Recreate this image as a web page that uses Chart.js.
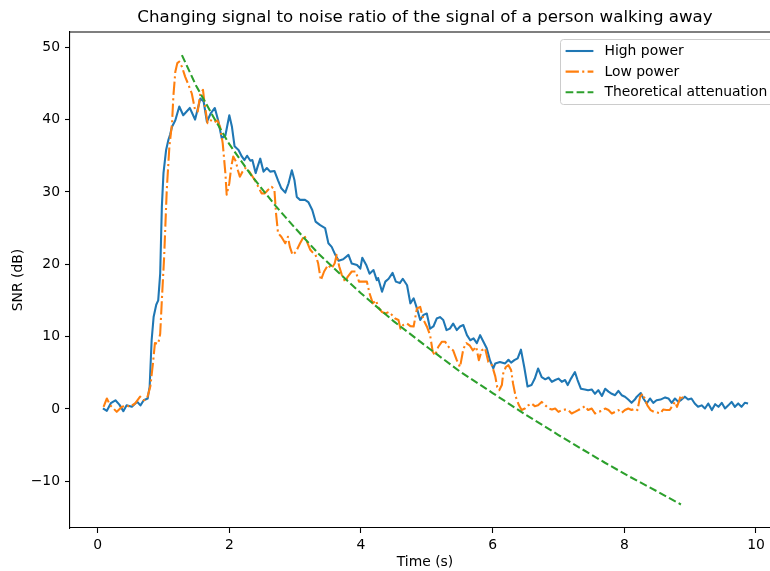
<!DOCTYPE html>
<html>
<head>
<meta charset="utf-8">
<script src="https://cdn.jsdelivr.net/npm/chart.js@4/dist/chart.umd.min.js"></script>
<style>
  html, body { margin: 0; padding: 0; background: #fff; overflow: hidden; }
  #wrap { width: 800px; height: 571px; }
</style>
</head>
<body>
<div id="wrap"><canvas id="grafico" width="800" height="571"></canvas></div>
<script>
// dados
const titulo = 'Changing signal to noise ratio of the signal of a person walking away';
const nomes = ['High power', 'Low power', 'Theoretical attenuation'];
const xTicks = [0, 2, 4, 6, 8, 10];
const yTicks = [-10, 0, 10, 20, 30, 40, 50];

const highT = [0.08,0.14,0.20,0.27,0.33,0.39,0.44,0.52,0.60,0.65,0.70,0.76,0.79,0.82,0.85,0.89,0.92,0.95,0.975,1.00,
  1.04,1.075,1.10,1.13,1.18,1.24,1.30,1.40,1.48,1.56,1.61,1.66,1.72,1.78,1.83,1.885,1.94,2.00,2.04,2.08,
  2.14,2.19,2.23,2.27,2.32,2.35,2.40,2.43,2.47,2.52,2.57,2.62,2.685,2.74,2.79,2.85,2.90,2.95,2.99,3.025,
  3.075,3.15,3.20,3.26,3.31,3.38,3.455,3.505,3.555,3.61,3.66,3.73,3.81,3.86,3.94,3.99,4.02,4.08,4.13,4.19,
  4.24,4.26,4.32,4.37,4.42,4.48,4.53,4.59,4.635,4.70,4.75,4.80,4.85,4.90,4.95,5.00,5.05,5.10,5.15,5.20,
  5.25,5.30,5.35,5.40,5.455,5.505,5.555,5.61,5.66,5.71,5.76,5.81,5.86,5.91,5.96,6.01,6.04,6.11,6.19,6.24,
  6.28,6.33,6.38,6.43,6.48,6.53,6.59,6.64,6.69,6.745,6.80,6.85,6.90,6.95,7.00,7.05,7.10,7.14,7.19,7.25,
  7.29,7.34,7.40,7.45,7.505,7.555,7.605,7.66,7.71,7.76,7.81,7.86,7.91,7.96,8.01,8.06,8.11,8.16,8.19,8.25,
  8.29,8.34,8.39,8.44,8.49,8.55,8.62,8.67,8.72,8.77,8.82,8.87,8.92,8.97,9.02,9.07,9.12,9.175,9.225,9.275,
  9.33,9.38,9.43,9.48,9.53,9.58,9.63,9.68,9.73,9.78,9.83,9.88];
const highV = [0.1,-0.25,0.8,1.2,0.6,-0.3,0.5,0.3,1.0,0.5,1.2,1.45,3.1,9.5,12.7,14.4,15.0,18.7,27.9,32.6,
  35.8,37.2,37.9,39.0,39.9,41.8,40.6,41.6,40.0,42.9,42.5,39.7,40.9,41.6,39.9,37.4,37.8,40.6,39.0,36.3,
  35.8,34.9,34.4,35.0,34.3,34.4,32.6,33.5,34.6,32.8,33.3,32.8,32.9,31.6,30.5,29.9,31.2,33.0,31.6,29.3,
  28.9,28.9,28.6,27.5,25.9,25.4,25.0,22.9,22.4,21.3,20.5,20.7,21.3,20.1,19.9,19.4,20.9,19.9,18.7,19.2,
  17.8,18.1,16.2,17.6,18.0,18.8,17.6,17.4,18.0,17.1,14.6,15.3,13.9,12.3,13.0,13.2,11.1,11.4,12.5,12.7,
  12.3,10.9,11.1,11.8,10.9,11.4,11.6,10.2,9.5,9.75,9.1,10.2,9.3,8.4,6.7,5.6,6.3,6.5,6.3,6.8,
  6.4,6.75,7.0,8.2,5.8,3.1,3.3,4.2,5.6,4.4,4.1,4.35,3.75,4.0,4.2,3.75,4.0,3.3,4.2,5.1,
  4.0,2.8,2.7,2.6,2.7,2.1,2.6,1.8,2.8,2.4,2.1,1.9,2.5,1.9,1.7,1.3,0.85,1.3,1.7,2.2,
  1.45,0.76,1.45,0.85,1.2,1.3,1.6,1.45,0.85,1.45,0.98,1.3,1.7,1.3,1.45,0.76,0.3,0.5,0.07,0.76,
  -0.15,0.66,0.3,0.85,0.07,0.5,0.98,0.3,0.76,0.3,0.85,0.76];

const lowT = [0.09,0.14,0.19,0.24,0.29,0.37,0.44,0.49,0.57,0.645,0.70,0.75,0.80,0.84,0.87,0.92,0.95,0.975,1.01,1.05,
  1.09,1.13,1.15,1.18,1.21,1.24,1.28,1.33,1.38,1.43,1.48,1.52,1.56,1.60,1.63,1.67,1.72,1.77,1.82,1.86,
  1.90,1.94,1.96,2.00,2.03,2.06,2.10,2.13,2.16,2.20,2.24,2.29,2.34,2.39,2.44,2.49,2.54,2.59,2.645,2.685,
  2.71,2.74,2.79,2.85,2.89,2.92,2.96,3.01,3.075,3.14,3.18,3.23,3.26,3.31,3.35,3.39,3.44,3.50,3.55,3.60,
  3.63,3.67,3.71,3.76,3.80,3.86,3.92,3.97,4.02,4.09,4.13,4.18,4.23,4.26,4.32,4.37,4.42,4.47,4.52,4.57,
  4.60,4.64,4.70,4.75,4.80,4.85,4.90,4.95,5.00,5.05,5.09,5.125,5.175,5.23,5.28,5.31,5.35,5.40,5.455,5.505,
  5.555,5.60,5.65,5.70,5.75,5.79,5.835,5.885,5.935,5.99,6.04,6.07,6.10,6.14,6.16,6.20,6.24,6.28,6.31,6.35,
  6.40,6.44,6.49,6.54,6.59,6.64,6.69,6.745,6.80,6.85,6.90,6.95,7.00,7.05,7.10,7.15,7.20,7.25,7.30,7.35,
  7.40,7.45,7.505,7.555,7.605,7.66,7.71,7.76,7.81,7.86,7.91,7.96,8.01,8.06,8.11,8.16,8.20,8.24,8.28,8.31,
  8.35,8.40,8.45,8.50,8.55,8.59,8.64,8.69,8.735,8.77,8.80,8.835,8.86,8.89];
const lowV = [0.3,1.45,0.5,0.07,-0.4,0.3,0.5,0.3,0.76,1.7,1.2,1.45,3.1,6.3,9.1,9.0,10.4,15.0,21.0,30.3,
  36.3,39.5,43.2,46.6,47.8,48.0,47.3,45.9,44.8,43.6,41.3,41.1,43.6,44.1,41.8,39.5,39.9,39.6,39.9,39.0,
  36.7,32.6,29.6,31.2,33.5,34.9,34.2,33.0,32.1,32.8,33.3,33.0,32.3,31.6,30.7,29.8,29.8,30.3,30.7,30.3,
  27.0,24.3,23.8,22.9,23.8,22.4,21.3,21.7,22.9,24.0,23.1,22.0,21.7,21.3,20.1,17.8,19.0,19.9,19.4,20.1,
  21.3,19.7,18.5,17.6,18.3,19.0,19.0,17.6,17.6,17.6,16.0,14.6,15.0,14.1,13.4,13.2,13.4,13.0,12.5,12.3,
  11.1,11.6,11.8,11.45,11.4,13.9,14.1,12.3,11.4,10.2,7.9,7.4,8.6,9.3,9.3,8.8,8.4,8.1,6.75,5.8,
  8.3,9.1,8.8,8.1,8.6,6.75,8.1,8.4,6.5,6.05,4.5,3.0,2.6,3.3,4.9,5.8,6.05,5.4,3.5,1.7,
  0.5,-0.15,0.07,0.5,0.76,0.39,0.5,0.98,0.5,0.07,-0.07,0.07,-0.4,-0.15,-0.07,-0.15,-0.62,-0.4,-0.15,0.07,
  0.39,-0.15,0.07,-0.62,-0.4,-0.26,0.07,-0.15,-0.62,-0.4,-0.15,-0.54,-0.15,0.07,-0.15,0.07,-0.15,1.7,2.1,1.45,
  0.5,-0.15,-0.4,-0.5,-0.6,-0.07,-0.15,-0.15,0.5,0.98,0.3,1.2,1.9,1.45];

const teoT = [1.28,1.5,1.75,2.0,2.35,2.7,3.0,3.35,3.7,4.0,4.5,5.0,5.5,6.0,6.47,7.0,7.33,7.7,8.09,8.5,8.86];
const teoV = [48.9,44.6,40.5,36.6,32.1,28.1,25.0,21.5,18.5,16.0,12.1,8.6,5.2,2.2,-0.6,-3.6,-5.4,-7.4,-9.4,-11.4,-13.2];

const cores = ['#1f77b4', '#ff7f0e', '#2ca02c'];
const tracos = [[], [13.3, 3.3, 2.1, 3.3], [7.7, 3.3]];
const fonte = 'DejaVu Sans';

function pontos(ts, vs) {
    return ts.map((t, i) => ({ x: t, y: vs[i] }));
}

function menos(v) {
    return v < 0 ? '\u2212' + Math.abs(v) : String(v);
}

// linha de cima do quadro e legenda no canto
const molduraLegenda = {
    id: 'molduraLegenda',
    afterDraw(chart) {
        const { ctx, chartArea: a } = chart;
        ctx.save();
        ctx.strokeStyle = '#000';
        ctx.lineWidth = 1.1;
        ctx.beginPath();
        ctx.moveTo(a.left, a.top);
        ctx.lineTo(a.right + 5, a.top);
        ctx.stroke();

        const bx = a.right - 220, by = a.top + 7, bw = 213, bh = 65;
        ctx.beginPath();
        ctx.roundRect(bx + 0.5, by + 0.5, bw, bh, 3);
        ctx.fillStyle = 'rgba(255,255,255,0.8)';
        ctx.fill();
        ctx.strokeStyle = '#cccccc';
        ctx.lineWidth = 1;
        ctx.stroke();

        ctx.font = '13.9px "' + fonte + '"';
        ctx.textBaseline = 'middle';
        ctx.textAlign = 'left';
        nomes.forEach((nome, i) => {
            const y = by + 12 + i * 20.6;
            ctx.beginPath();
            ctx.setLineDash(tracos[i]);
            ctx.strokeStyle = cores[i];
            ctx.lineWidth = 2.08;
            ctx.moveTo(bx + 5.6, y);
            ctx.lineTo(bx + 33.4, y);
            ctx.stroke();
            ctx.setLineDash([]);
            ctx.fillStyle = '#000';
            ctx.fillText(nome, bx + 44.5, y + 0.5);
        });
        ctx.restore();
    }
};

const eixoComum = {
    grid: { drawOnChartArea: false, tickLength: 5, tickColor: '#000', tickWidth: 1.1 },
    border: { color: '#000', width: 1.1 },
};

new Chart(document.getElementById('grafico'), {
    type: 'line',
    data: {
        datasets: [
            { label: nomes[0], data: pontos(highT, highV), borderColor: cores[0], borderDash: tracos[0], order: 3 },
            { label: nomes[1], data: pontos(lowT, lowV), borderColor: cores[1], borderDash: tracos[1], order: 2 },
            { label: nomes[2], data: pontos(teoT, teoV), borderColor: cores[2], borderDash: tracos[2], order: 1 },
        ]
    },
    options: {
        responsive: false,
        animation: false,
        events: [],
        elements: {
            point: { radius: 0 },
            line: { borderWidth: 2.08, tension: 0, borderJoinStyle: 'round', fill: false }
        },
        layout: { padding: { left: 0, right: 20, top: 0, bottom: 0 } },
        plugins: {
            legend: { display: false },
            tooltip: { enabled: false },
            title: {
                display: true,
                text: titulo,
                color: '#000',
                fullSize: false,
                font: { family: fonte, size: 16.67, weight: 'normal', lineHeight: 1.2 },
                padding: { top: 8, bottom: 4 }
            }
        },
        scales: {
            x: {
                ...eixoComum,
                type: 'linear',
                min: -0.42,
                max: 10.365,
                afterBuildTicks: s => { s.ticks = xTicks.map(v => ({ value: v })); },
                afterFit: s => { s.height = 43; },
                ticks: { color: '#000', font: { family: fonte, size: 13.9 }, padding: 4, maxRotation: 0, autoSkip: false },
                title: { display: true, text: 'Time (s)', color: '#000', font: { family: fonte, size: 13.9 }, padding: { top: 0, bottom: 0 } }
            },
            y: {
                ...eixoComum,
                type: 'linear',
                min: -16.45,
                max: 52.1,
                afterBuildTicks: s => { s.ticks = yTicks.map(v => ({ value: v })); },
                afterFit: s => { s.width = 70; },
                ticks: { color: '#000', font: { family: fonte, size: 13.9 }, padding: 5, callback: v => menos(v) },
                title: { display: true, text: 'SNR (dB)', color: '#000', font: { family: fonte, size: 13.9 }, padding: { top: 10, bottom: 0 } }
            }
        }
    },
    plugins: [molduraLegenda]
});
</script>
</body>
</html>
